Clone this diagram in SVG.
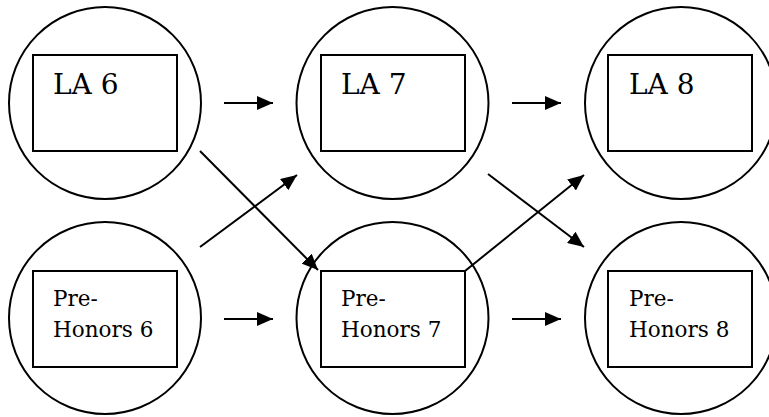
<svg xmlns="http://www.w3.org/2000/svg" width="769" height="417" viewBox="0 0 769 417">
<defs>
<marker id="ah" markerWidth="16" markerHeight="14" refX="16" refY="7" orient="auto" markerUnits="userSpaceOnUse">
<path d="M0,0 L16,7 L0,14 Z" fill="#000"/>
</marker>
<style>
.c{fill:#fff;stroke:#000;stroke-width:2}
.r{fill:#fff;stroke:#000;stroke-width:2}
.la{font-family:'DejaVu Serif','Liberation Serif',serif;font-size:28px;fill:#000}
.ph{font-family:'DejaVu Serif','Liberation Serif',serif;font-size:21.5px;fill:#000}
.e{stroke:#000;stroke-width:2;fill:none;marker-end:url(#ah)}
</style>
</defs>
<rect width="769" height="417" fill="#fff"/>
<g id="la6">
<circle class="c" cx="105" cy="103" r="96"/>
<rect class="r" x="33" y="55" width="144" height="96"/>
<text class="la" x="53" y="94">LA 6</text>
</g>
<g id="la7">
<circle class="c" cx="392.5" cy="103" r="96"/>
<rect class="r" x="321" y="55" width="144" height="96"/>
<text class="la" x="341" y="94">LA 7</text>
</g>
<g id="la8">
<circle class="c" cx="681" cy="103" r="96"/>
<rect class="r" x="608" y="55" width="144" height="96"/>
<text class="la" x="629" y="94">LA 8</text>
</g>
<g id="ph6">
<circle class="c" cx="105" cy="318" r="96"/>
<rect class="r" x="33" y="271" width="144" height="96"/>
<text class="ph" x="53" y="306">Pre-</text>
<text class="ph" x="53" y="337">Honors 6</text>
</g>
<g id="ph7">
<circle class="c" cx="392.5" cy="318" r="96"/>
<rect class="r" x="321" y="271" width="144" height="96"/>
<text class="ph" x="341" y="306">Pre-</text>
<text class="ph" x="341" y="337">Honors 7</text>
</g>
<g id="ph8">
<circle class="c" cx="681" cy="318" r="96"/>
<rect class="r" x="608" y="271" width="144" height="96"/>
<text class="ph" x="629" y="306">Pre-</text>
<text class="ph" x="629" y="337">Honors 8</text>
</g>
<g id="connectors">
<line class="e" x1="224" y1="103" x2="273" y2="103"/>
<line class="e" x1="512" y1="103" x2="561" y2="103"/>
<line class="e" x1="224" y1="319" x2="273" y2="319"/>
<line class="e" x1="512" y1="319" x2="561" y2="319"/>
<line class="e" x1="200" y1="151" x2="318" y2="270"/>
<line class="e" x1="200" y1="247" x2="297" y2="175"/>
<line class="e" x1="488" y1="174" x2="584" y2="247"/>
<line class="e" x1="465" y1="271" x2="584" y2="175"/>
</g>
</svg>
